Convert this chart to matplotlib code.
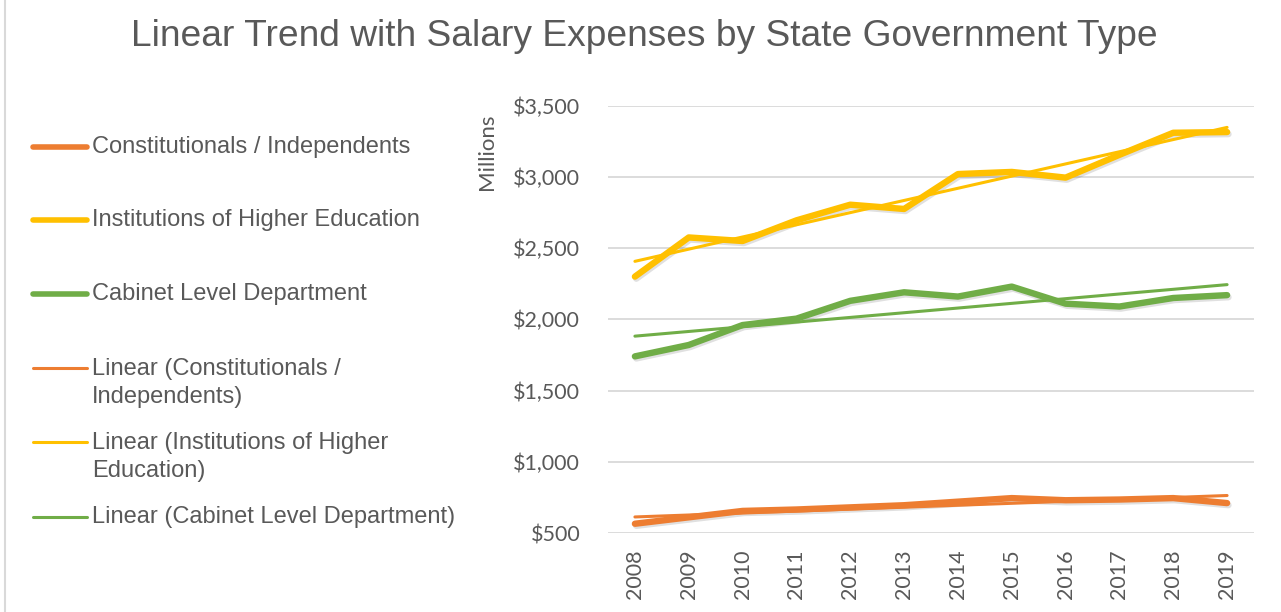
import numpy as np
import matplotlib
matplotlib.use("Agg")
import matplotlib.pyplot as plt
import matplotlib.patheffects as pe
from matplotlib.lines import Line2D
from matplotlib.ticker import FuncFormatter

# Data (millions of dollars)
years = ["2008", "2009", "2010", "2011", "2012", "2013",
         "2014", "2015", "2016", "2017", "2018", "2019"]
constitutionals = [565, 610, 655, 665, 680, 695, 720, 745, 730, 735, 745, 710]
higher_ed = [2300, 2575, 2550, 2695, 2805, 2775, 3020, 3035, 2995, 3155, 3310, 3315]
cabinet = [1740, 1820, 1960, 2005, 2130, 2190, 2160, 2230, 2110, 2090, 2150, 2170]

series_names = ["Constitutionals / Independents",
                "Institutions of Higher Education",
                "Cabinet Level Department"]
trend_names = ["Linear (Constitutionals /\nIndependents)",
               "Linear (Institutions of Higher\nEducation)",
               "Linear (Cabinet Level Department)"]
colors = ["#ED7D31", "#FFC000", "#70AD47"]
text_gray = "#595959"

fig = plt.figure(figsize=(12.81, 6.12), dpi=100)
ax = fig.add_axes([608 / 1281, 1 - 533 / 612, 646 / 1281, (533 - 105.7) / 612])

x = np.arange(len(years))
shadow = [pe.SimpleLineShadow(offset=(1, -1.5), alpha=0.12, shadow_color="black"), pe.Normal()]

for vals, col in zip([constitutionals, higher_ed, cabinet], colors):
    ax.plot(x, vals, color=col, lw=4.6, solid_capstyle="round",
            solid_joinstyle="round", path_effects=shadow, zorder=3)

for vals, col in zip([constitutionals, higher_ed, cabinet], colors):
    k, b = np.polyfit(x, vals, 1)
    ax.plot(x, k * x + b, color=col, lw=2.2, solid_capstyle="round", zorder=4)

ax.set_xlim(-0.5, len(years) - 0.5)
ax.set_ylim(500, 3500)
ax.set_yticks(np.arange(500, 3501, 500))
ax.yaxis.set_major_formatter(FuncFormatter(lambda v, p: f"${v:,.0f}"))
ax.set_xticks(x)
ax.set_xticklabels(years, rotation=90)
ax.grid(axis="y", color="#D9D9D9", lw=1.3)
ax.set_axisbelow(True)
for s in ax.spines.values():
    s.set_visible(False)
ax.tick_params(length=0, colors=text_gray, labelsize=15.5)
ax.tick_params(axis="y", pad=20)
ax.tick_params(axis="x", pad=12)
for lab in ax.get_xticklabels() + ax.get_yticklabels():
    lab.set_fontfamily("Lato")

fig.text(487 / 1281, 1 - 152 / 612, "Millions", rotation=90, ha="center", va="center",
         fontsize=16, color=text_gray, family="Lato")

fig.text(644.5 / 1281, 1 - 36 / 612,
         "Linear Trend with Salary Expenses by State Government Type",
         ha="center", va="center", fontsize=26.7, color=text_gray, family="Liberation Sans")

# Legend on the left, drawn by hand to match spacing
entries = [(series_names[0], colors[0], 4.0, 147, 147),
           (series_names[1], colors[1], 4.0, 220, 220),
           (series_names[2], colors[2], 4.0, 294, 294),
           (trend_names[0], colors[0], 2.2, 368, 383),
           (trend_names[1], colors[1], 2.2, 442, 457),
           (trend_names[2], colors[2], 2.2, 517, 517)]
for label, col, lw, yl, yt in entries:
    fig.add_artist(Line2D([33 / 1281, 87 / 1281], [1 - yl / 612, 1 - yl / 612],
                          color=col, lw=lw, solid_capstyle="round",
                          transform=fig.transFigure))
    fig.text(92 / 1281, 1 - yt / 612, label, ha="left", va="center", fontsize=17,
             color=text_gray, family="Liberation Sans", linespacing=1.4)

# thin chart border on the left
fig.add_artist(Line2D([5 / 1281, 5 / 1281], [0, 1], color="#D9D9D9", lw=1.5,
                      transform=fig.transFigure))

fig.savefig("out.png", dpi=100)
